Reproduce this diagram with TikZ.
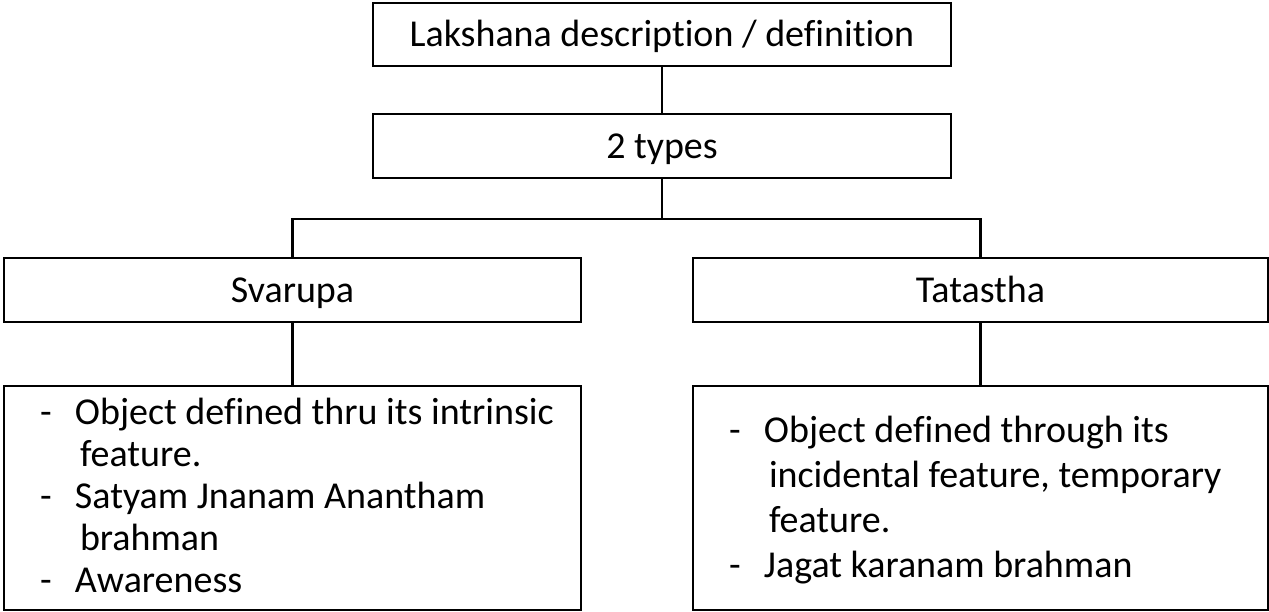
\documentclass[tikz,border=0pt]{standalone}
\usepackage{fontspec}
\setmainfont{Carlito}[Ligatures=NoCommon]
\usetikzlibrary{calc}
\setlength{\parindent}{0pt}

% a bullet line with a dash, and its continuation lines
\newcommand{\dashline}[1]{\makebox[35pt][l]{-}#1}
\newcommand{\contline}[1]{\hspace*{40pt}#1}

\begin{document}
\begin{tikzpicture}[x=1pt,y=1pt,
  box/.style={draw=black, line width=2.4pt, rectangle, inner sep=0pt,
              font=\fontsize{38pt}{45pt}\selectfont,
              text height=24.5pt, text depth=0pt},
  link/.style={draw=black, line width=2.2pt},
  desctext/.style={inner sep=0pt, anchor=base west}
]
\useasboundingbox (0,0) rectangle (1269,-612);

% boxes
\node[box, minimum width=578pt, minimum height=63pt] (top) at (662,-34.5)
  {Lakshana description / definition};
\node[box, minimum width=578pt, minimum height=64pt] (types) at (662,-146)
  {2 types};
\node[box, minimum width=577pt, minimum height=64pt] (svar) at (292.5,-290)
  {Svarupa};
\node[box, minimum width=575pt, minimum height=64pt] (tata) at (980.5,-290)
  {Tatastha};
\node[box, minimum width=577pt, minimum height=224pt] (sdesc) at (292.5,-498) {};
\node[box, minimum width=575pt, minimum height=224pt] (tdesc) at (980.5,-498) {};

% box contents
\node[desctext] (stext) at ($(sdesc.north west)+(37,-40)$)
  {\parbox[t]{540pt}{\fontsize{38pt}{42pt}\selectfont
    \dashline{Object defined thru its intrinsic}\\
    \contline{feature.}\\
    \dashline{Satyam Jnanam Anantham}\\
    \contline{brahman}\\
    \dashline{Awareness}}};
\node[desctext] (ttext) at ($(tdesc.north west)+(37,-58)$)
  {\parbox[t]{530pt}{\fontsize{38pt}{45pt}\selectfont
    \dashline{Object defined through its}\\
    \contline{incidental feature, temporary}\\
    \contline{feature.}\\
    \dashline{Jagat karanam brahman}}};

% connectors
\coordinate (barmid) at ($(types.south)+(0,-40)$);
\draw[link] (top.south) -- (types.north);
\draw[link] (types.south) -- (barmid);
\draw[link] (svar.north) |- (barmid);
\draw[link] (tata.north) |- (barmid);
\draw[link] (svar.south) -- (sdesc.north);
\draw[link] (tata.south) -- (tdesc.north);
\end{tikzpicture}
\end{document}
